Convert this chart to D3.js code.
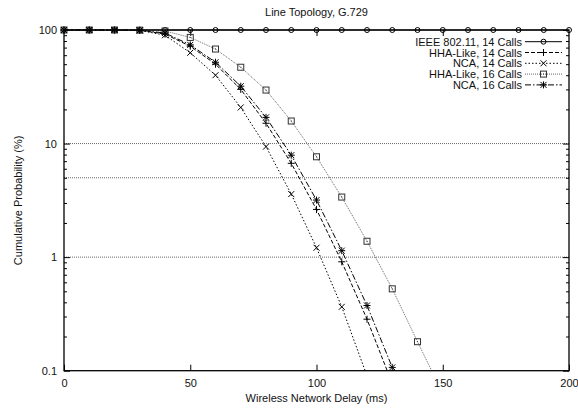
<!DOCTYPE html>
<html>
<head>
<meta charset="utf-8">
<script src="https://cdn.jsdelivr.net/npm/d3@7"></script>
<style>
  html, body { margin: 0; padding: 0; background: #fff; }
  svg { display: block; font-family: "Liberation Sans", Arial, sans-serif; }
  .lbl { font-size: 11px; fill: #111; }
</style>
</head>
<body>
<svg id="chart" width="578" height="410"></svg>
<script>
/* ── Data ─────────────────────────────────────────────────── */
const DELAY_MS = [0, 10, 20, 30, 40, 50, 60, 70, 80, 90, 100,
                  110, 120, 130, 140, 150, 160, 170, 180, 190, 200];

// cumulative probability (%) at DELAY_MS[i]
const IEEE_14 = [100, 100, 100, 100, 100, 100, 100, 100, 100, 100, 100,
                 100, 100, 100, 100, 100, 100, 100, 100, 100, 100];
const HHA_14  = [100, 100, 100, 99.5, 92, 72, 50, 30, 15.1, 6.7, 2.63, 0.91, 0.284, 0.077];
const NCA_14  = [100, 100, 100, 99.2, 90, 63, 40, 20.8, 9.4, 3.59, 1.21, 0.365, 0.09];
const HHA_16  = [100, 100, 100, 99.7, 98, 86, 68, 47, 29.6, 15.8, 7.65, 3.38, 1.38, 0.526, 0.18, 0.063];
const NCA_16  = [100, 100, 100, 99.5, 94, 74, 52, 32, 17, 7.9, 3.18, 1.14, 0.375, 0.107, 0.03];

const SERIES_NAMES = ["IEEE 802.11, 14 Calls", "HHA-Like, 14 Calls", "NCA, 14 Calls",
                      "HHA-Like, 16 Calls", "NCA, 16 Calls"];

const X_TICKS  = [0, 50, 100, 150, 200];
const Y_TICKS  = [0.1, 1, 10, 100];
const Y_MINOR  = [0.2, 0.3, 0.4, 0.5, 0.6, 0.7, 0.8, 0.9,
                  2, 3, 4, 5, 6, 7, 8, 9,
                  20, 30, 40, 50, 60, 70, 80, 90];
const GRID_Y   = [10, 5, 1];

/* ── Styles per series ────────────────────────────────────── */
const STYLES = [
  { marker: "circle", dash: null,        color: "#000" },
  { marker: "plus",   dash: "4,2",       color: "#000" },
  { marker: "cross",  dash: "1.5,2",     color: "#000" },
  { marker: "square", dash: "1,1",       color: "#666" },
  { marker: "star",   dash: "6,2,1.5,2", color: "#000" },
];

const seriesValues = [IEEE_14, HHA_14, NCA_14, HHA_16, NCA_16];
const series = SERIES_NAMES.map((name, i) => ({
  name,
  style: STYLES[i],
  pts: seriesValues[i].map((v, j) => ({ x: DELAY_MS[j], y: v })),
}));

/* ── Layout ───────────────────────────────────────────────── */
const L = 64, R = 569, T = 30, B = 370.7;

const svg = d3.select("#chart");
const x = d3.scaleLinear().domain([0, 200]).range([L, R]);
const y = d3.scaleLog().domain([0.1, 100]).range([B, T]);

/* Grid lines */
svg.append("g").selectAll("line").data(GRID_Y).join("line")
  .attr("x1", L).attr("x2", R)
  .attr("y1", (d) => y(d)).attr("y2", (d) => y(d))
  .attr("stroke", "#666").attr("stroke-width", 1)
  .attr("stroke-dasharray", "1,1");

/* Axes (ticks inward, mirrored) */
function styleAxis(g) {
  g.select(".domain").remove();
  g.selectAll("line").attr("stroke", "#000");
  g.selectAll("text").attr("class", "lbl");
  g.attr("font-family", null).attr("font-size", null);
}

svg.append("g").attr("transform", `translate(0,${B})`)
  .call(d3.axisBottom(x).tickValues(X_TICKS).tickSize(-6).tickPadding(9).tickFormat(d3.format("d")))
  .call(styleAxis);
svg.append("g").attr("transform", `translate(0,${T})`)
  .call(d3.axisTop(x).tickValues(X_TICKS.slice(1, -1)).tickSize(-6).tickFormat(""))
  .call(styleAxis);

svg.append("g").attr("transform", `translate(${L},0)`)
  .call(d3.axisLeft(y).tickValues(Y_TICKS).tickSize(-6).tickPadding(7).tickFormat((d) => String(d)))
  .call(styleAxis);
svg.append("g").attr("transform", `translate(${L},0)`)
  .call(d3.axisLeft(y).tickValues(Y_MINOR).tickSize(-3).tickFormat(""))
  .call(styleAxis);
svg.append("g").attr("transform", `translate(${R},0)`)
  .call(d3.axisRight(y).tickValues(Y_TICKS).tickSize(-6).tickFormat(""))
  .call(styleAxis);
svg.append("g").attr("transform", `translate(${R},0)`)
  .call(d3.axisRight(y).tickValues(Y_MINOR).tickSize(-3).tickFormat(""))
  .call(styleAxis);

/* Clip for curves */
svg.append("clipPath").attr("id", "plot-clip")
  .append("rect").attr("x", L).attr("y", T - 4).attr("width", R - L).attr("height", B - T + 4);

/* Markers */
function drawMarker(sel, type, color) {
  sel.attr("fill", "none").attr("stroke", color).attr("stroke-width", 1);
  if (type === "circle") {
    sel.append("circle").attr("r", 2.5);
  } else if (type === "plus") {
    sel.append("path").attr("d", "M-3.5,0H3.5M0,-3.5V3.5");
  } else if (type === "cross") {
    sel.append("path").attr("d", "M-3,-3L3,3M-3,3L3,-3");
  } else if (type === "square") {
    sel.append("rect").attr("x", -3).attr("y", -3).attr("width", 6).attr("height", 6);
    sel.append("rect").attr("x", -0.5).attr("y", -0.5).attr("width", 1).attr("height", 1)
      .attr("fill", color).attr("stroke", "none");
  } else if (type === "star") {
    sel.append("path").attr("d", "M-3.5,0H3.5M0,-3.5V3.5M-3,-3L3,3M-3,3L3,-3");
  }
}

const line = d3.line().x((d) => x(d.x)).y((d) => y(d.y));
const markColor = (s) => (s.style.color === "#666" ? "#333" : s.style.color);

const plot = svg.append("g");
series.forEach((s) => {
  plot.append("path")
    .datum(s.pts)
    .attr("clip-path", "url(#plot-clip)")
    .attr("d", line)
    .attr("fill", "none")
    .attr("stroke", s.style.color)
    .attr("stroke-width", 1)
    .attr("stroke-dasharray", s.style.dash);
});
series.forEach((s) => {
  plot.append("g").selectAll("g")
    .data(s.pts.filter((d) => d.y >= 0.1))
    .join("g")
    .attr("transform", (d) => `translate(${x(d.x)},${y(d.y)})`)
    .each(function () { drawMarker(d3.select(this), s.style.marker, markColor(s)); });
});

/* Frame */
svg.append("rect")
  .attr("x", L).attr("y", T).attr("width", R - L).attr("height", B - T)
  .attr("fill", "none").attr("stroke", "#000").attr("stroke-width", 1.3);

/* Legend */
const lg = svg.append("g");
series.forEach((s, i) => {
  const ly = 41.7 + i * 10.8;
  lg.append("text").attr("class", "lbl")
    .attr("x", 522).attr("y", ly + 4).attr("text-anchor", "end").text(s.name);
  lg.append("line")
    .attr("x1", 525).attr("x2", 562).attr("y1", ly).attr("y2", ly)
    .attr("stroke", s.style.color).attr("stroke-width", 1)
    .attr("stroke-dasharray", s.style.dash);
  lg.append("g").attr("transform", `translate(543.5,${ly})`)
    .call((g) => drawMarker(g, s.style.marker, markColor(s)));
});

/* Titles */
svg.append("text").attr("class", "lbl")
  .attr("x", (L + R) / 2).attr("y", 16).attr("text-anchor", "middle")
  .text("Line Topology, G.729");
svg.append("text").attr("class", "lbl")
  .attr("x", (L + R) / 2).attr("y", 402).attr("text-anchor", "middle")
  .text("Wireless Network Delay (ms)");
svg.append("text").attr("class", "lbl")
  .attr("transform", `translate(22,${(T + B) / 2}) rotate(-90)`)
  .attr("text-anchor", "middle")
  .text("Cumulative Probability (%)");
</script>
</body>
</html>
